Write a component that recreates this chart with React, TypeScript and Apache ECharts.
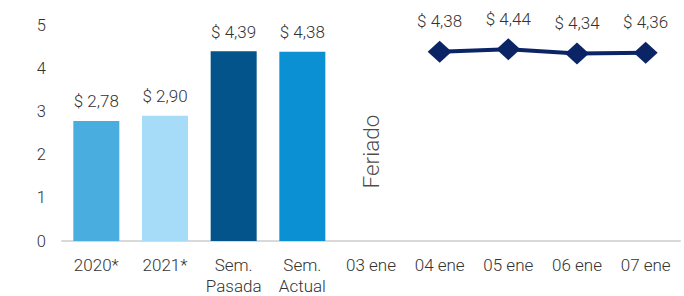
import React, { useEffect, useRef } from "react";
import * as echarts from "echarts";

const categories = ["2020*", "2021*", "Sem.\nPasada", "Sem.\nActual", "03 ene", "04 ene", "05 ene", "06 ene", "07 ene"];
const barValues: (number | null)[] = [2.78, 2.9, 4.39, 4.38, null, null, null, null, null];
const barColors = ["#4aaddf", "#a6dcf8", "#02548a", "#0b91d3"];
const lineValues: (number | null)[] = [null, null, null, null, null, 4.38, 4.44, 4.34, 4.36];
const holidayCategory = "03 ene";
const holidayLabel = "Feriado";
const holidayY = 2.07;
const yTicks = [0, 1, 2, 3, 4, 5];

const fmt = (v: number) => "$ " + v.toFixed(2).replace(".", ",");

export default function App() {
  const ref = useRef<HTMLDivElement>(null);
  useEffect(() => {
    document.body.style.margin = "0";
    const chart = echarts.init(ref.current!, null, { renderer: "svg" });
    const font = "Roboto";
    const textColor = "#333333";
    chart.setOption({
      animation: false,
      grid: { left: 62, right: 4, top: 25, bottom: 54 },
      xAxis: {
        type: "category",
        data: categories,
        axisLine: { lineStyle: { color: "#d9d9d9", width: 2 } },
        axisTick: { show: false },
        axisLabel: {
          color: textColor,
          fontFamily: font,
          fontWeight: 300,
          fontSize: 17,
          lineHeight: 21,
          margin: 13,
          interval: 0,
        },
      },
      yAxis: {
        type: "value",
        min: yTicks[0],
        max: yTicks[yTicks.length - 1],
        interval: 1,
        splitLine: { show: false },
        axisLine: { show: false },
        axisTick: { show: false },
        axisLabel: { color: textColor, fontFamily: font, fontWeight: 300, fontSize: 16.5, margin: 16 },
      },
      series: [
        {
          type: "bar",
          barWidth: 46,
          data: barValues.map((v, i) =>
            v == null ? null : { value: v, itemStyle: { color: barColors[i] } }
          ),
          label: {
            show: true,
            position: "top",
            distance: 11,
            formatter: (p: any) => fmt(p.value),
            color: textColor,
            fontFamily: font,
            fontWeight: 300,
            fontSize: 17,
          },
        },
        {
          type: "line",
          data: lineValues,
          connectNulls: false,
          symbol: "diamond",
          symbolSize: [24, 22],
          lineStyle: { color: "#0b2466", width: 4 },
          itemStyle: { color: "#0b2466" },
          label: {
            show: true,
            position: "top",
            distance: 11,
            formatter: (p: any) => fmt(p.value),
            color: textColor,
            fontFamily: font,
            fontWeight: 300,
            fontSize: 17,
          },
        },
        {
          type: "scatter",
          symbolSize: 0,
          data: [[holidayCategory, holidayY]],
          label: {
            show: true,
            position: "inside",
            rotate: 90,
            formatter: holidayLabel,
            color: "#1a1a1a",
            fontFamily: font,
            fontWeight: 300,
            fontSize: 22.5,
          },
        },
      ],
    });
    return () => chart.dispose();
  }, []);
  return <div ref={ref} style={{ width: 684, height: 296 }} />;
}
